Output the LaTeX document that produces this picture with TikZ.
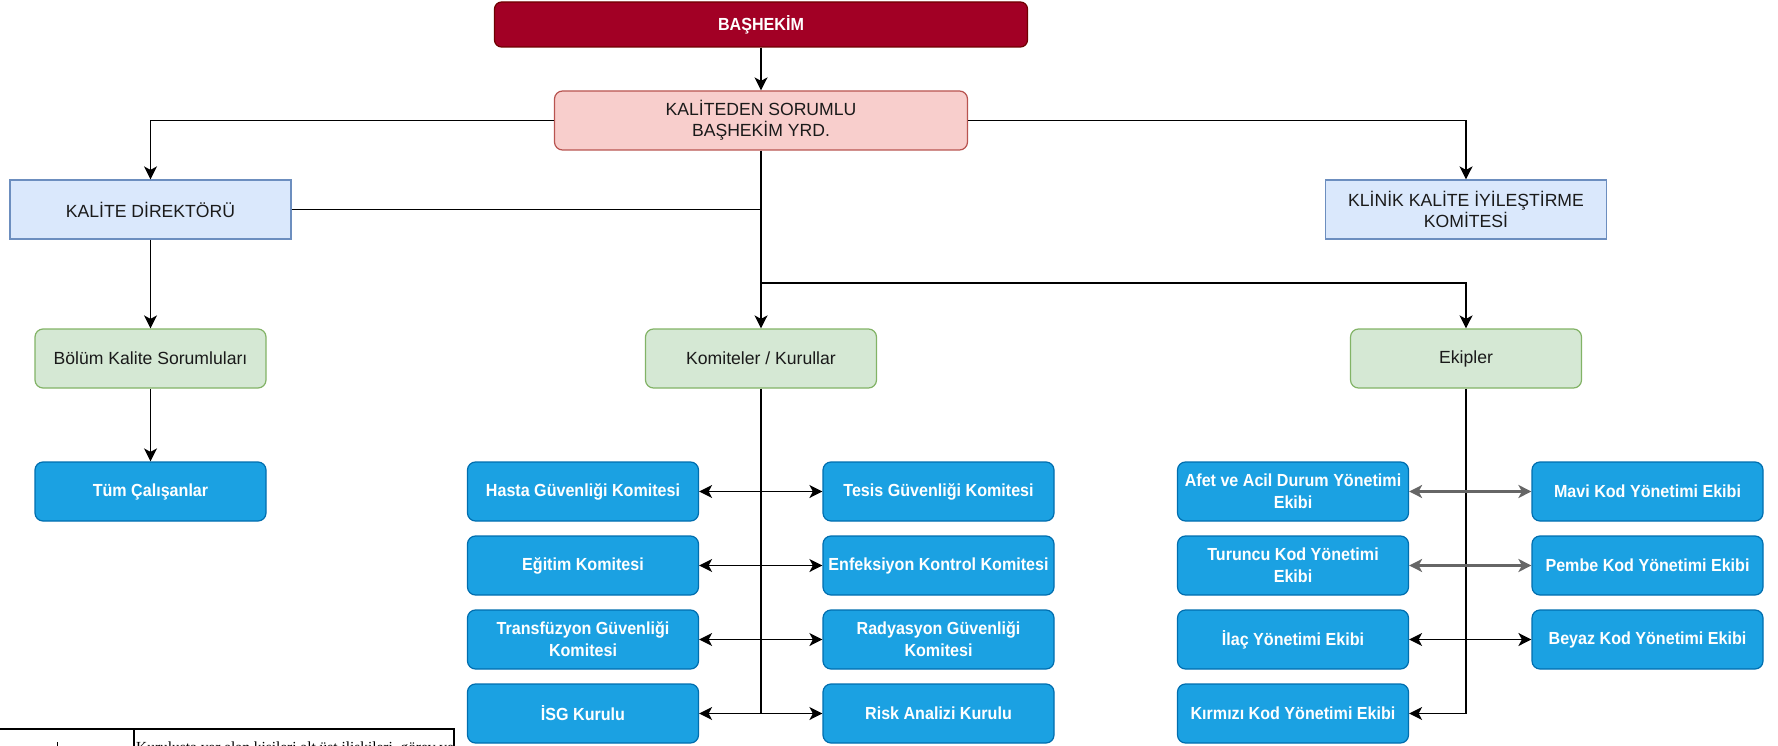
\documentclass[tikz,border=0pt]{standalone}
\usepackage{fontspec}
\setmainfont{Liberation Sans}
\newfontfamily\bcond[FakeStretch=0.92]{Liberation Sans Bold}
\newfontfamily\tabfont{Liberation Serif}
\usetikzlibrary{arrows.meta}
\definecolor{basred}{HTML}{A20025}
\definecolor{basredline}{HTML}{6F0000}
\definecolor{pinkfill}{HTML}{F8CECC}
\definecolor{pinkline}{HTML}{B85450}
\definecolor{lbfill}{HTML}{DAE8FC}
\definecolor{lbline}{HTML}{6C8EBF}
\definecolor{gfill}{HTML}{D5E8D4}
\definecolor{gline}{HTML}{82B366}
\definecolor{bfill}{HTML}{1BA1E2}
\definecolor{bline}{HTML}{006EAF}
\definecolor{txt}{HTML}{1A1A1A}
\definecolor{grayarrow}{HTML}{666666}
\tikzset{
  basebox/.style={rectangle, inner sep=2pt, align=center, line width=1.2pt, anchor=center},
  bossbox/.style={basebox, rounded corners=7pt, fill=basred, draw=basredline, text=white,
    font=\bcond\fontsize{17.5}{21}\selectfont, minimum width=533pt, minimum height=45pt},
  pinkbox/.style={basebox, rounded corners=8pt, fill=pinkfill, draw=pinkline, text=txt,
    font=\fontsize{17.6}{21}\selectfont, minimum width=413pt, minimum height=59pt},
  lbbox/.style={basebox, fill=lbfill, draw=lbline, text=txt,
    font=\fontsize{17.6}{21}\selectfont, minimum width=281pt, minimum height=59pt},
  gbox/.style={basebox, rounded corners=8pt, fill=gfill, draw=gline, text=txt,
    font=\fontsize{17.6}{21}\selectfont, minimum width=231pt, minimum height=59pt},
  bluebox/.style={basebox, rounded corners=8pt, fill=bfill, draw=bline, text=white,
    font=\bcond\fontsize{17.5}{22}\selectfont, minimum width=231pt, minimum height=59pt},
  conn/.style={line width=1.6pt, draw=black},
  tipshape/.style={},
  arr/.style={conn, -{Stealth[length=13pt,width=13pt,inset=3.5pt]}},
  darr/.style={conn, {Stealth[length=13pt,width=13pt,inset=3.5pt]}-{Stealth[length=13pt,width=13pt,inset=3.5pt]}},
  garr/.style={darr, draw=grayarrow, line width=2.2pt},
}
\begin{document}
\begin{tikzpicture}[x=1pt, y=-1pt]
\useasboundingbox (0,0) rectangle (1778,746);

% top nodes
\node[bossbox] (bas) at (761,24.5) {BAŞHEKİM};
\node[pinkbox] (kal) at (761,120.5) {KALİTEDEN SORUMLU\\BAŞHEKİM YRD.};
\node[lbbox] (kd) at (150.5,209.5) {KALİTE DİREKTÖRÜ};
\node[lbbox] (kk) at (1466,209.5) {KLİNİK KALİTE İYİLEŞTİRME\\KOMİTESİ};
\node[gbox] (bks) at (150.5,358.5) {Bölüm Kalite Sorumluları};
\node[gbox] (kom) at (761,358.5) {Komiteler / Kurullar};
\node[gbox] (ekp) at (1466,358.5) {Ekipler};
\node[bluebox] (tum) at (150.5,491.5) {Tüm Çalışanlar};

% komiteler
\node[bluebox] (k1l) at (583,491.5) {Hasta Güvenliği Komitesi};
\node[bluebox] (k1r) at (938.5,491.5) {Tesis Güvenliği Komitesi};
\node[bluebox] (k2l) at (583,565.5) {Eğitim Komitesi};
\node[bluebox] (k2r) at (938.5,565.5) {Enfeksiyon Kontrol Komitesi};
\node[bluebox] (k3l) at (583,639.5) {Transfüzyon Güvenliği\\Komitesi};
\node[bluebox] (k3r) at (938.5,639.5) {Radyasyon Güvenliği\\Komitesi};
\node[bluebox] (k4l) at (583,713.5) {İSG Kurulu};
\node[bluebox] (k4r) at (938.5,713.5) {Risk Analizi Kurulu};

% ekipler
\node[bluebox] (e1l) at (1293,491.5) {Afet ve Acil Durum Yönetimi\\Ekibi};
\node[bluebox] (e1r) at (1647.5,491.5) {Mavi Kod Yönetimi Ekibi};
\node[bluebox] (e2l) at (1293,565.5) {Turuncu Kod Yönetimi\\Ekibi};
\node[bluebox] (e2r) at (1647.5,565.5) {Pembe Kod Yönetimi Ekibi};
\node[bluebox] (e3l) at (1293,639.5) {İlaç Yönetimi Ekibi};
\node[bluebox] (e3r) at (1647.5,639.5) {Beyaz Kod Yönetimi Ekibi};
\node[bluebox] (e4l) at (1293,713.5) {Kırmızı Kod Yönetimi Ekibi};

% connectors
\draw[arr] (bas.south) -- (kal.north);
\draw[arr] (kal.west) -| (kd.north);
\draw[arr] (kal.east) -| (kk.north);
\draw[arr] (kal.south) -- (kom.north);
\coordinate (j1) at (kom.north |- kd.east);
\draw[conn] (kd.east) -- (j1);
\coordinate (j2) at (761,283);
\draw[arr] (j2) -| (ekp.north);
\draw[arr] (kd.south) -- (bks.north);
\draw[arr] (bks.south) -- (tum.north);

\coordinate (kb) at (kom.south |- k4l.east);
\draw[conn] (kom.south) -- (kb);
\draw[darr] (k1l.east) -- (k1r.west);
\draw[darr] (k2l.east) -- (k2r.west);
\draw[darr] (k3l.east) -- (k3r.west);
\draw[darr] (k4l.east) -- (k4r.west);

\draw[arr] (ekp.south) |- (e4l.east);
\draw[garr] (e1l.east) -- (e1r.west);
\draw[garr] (e2l.east) -- (e2r.west);
\draw[darr] (e3l.east) -- (e3r.west);

% cut-off table fragment at bottom left
\begin{scope}
\clip (0,0) rectangle (1778,746);
\draw[line width=1.2pt] (0,729) -- (454,729) -- (454,760);
\draw[line width=1.2pt] (134,729) -- (134,760);
\draw[line width=1pt] (57,742) -- (57,760);
\node[anchor=north west, inner sep=0pt, font=\tabfont\fontsize{15.4}{18}\selectfont] (tabtxt) at (136,741.5) {Kuruluşta yer alan kişileri alt üst ilişkileri, görev ve};
\end{scope}
\end{tikzpicture}
\end{document}
